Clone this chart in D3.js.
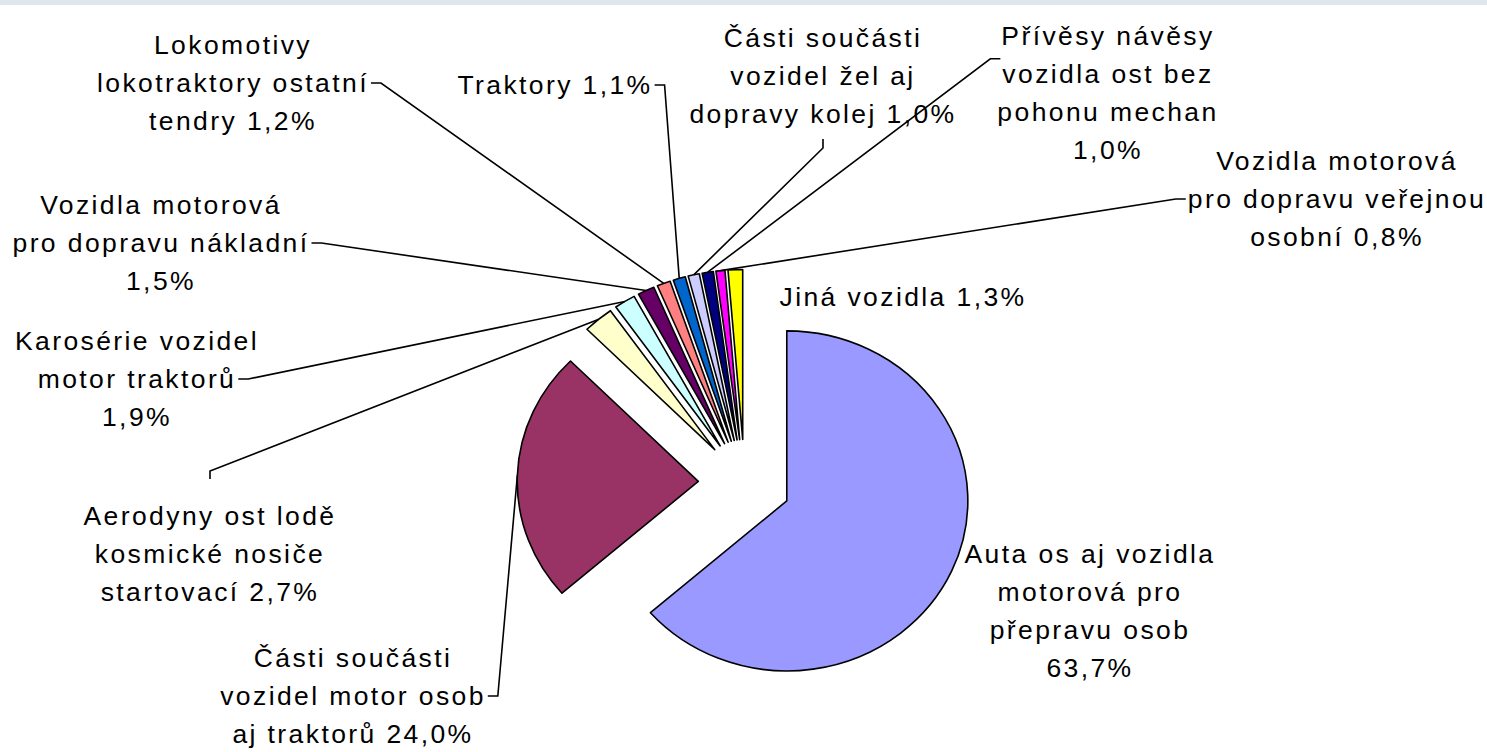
<!DOCTYPE html>
<html>
<head>
<meta charset="utf-8">
<script src="https://cdnjs.cloudflare.com/ajax/libs/d3/7.8.5/d3.min.js"></script>
<style>
    body { margin: 0; background: #fff; }
    svg { display: block; }
    .lbl { font-family: "Liberation Sans", Arial, sans-serif; font-size: 26.5px; letter-spacing: 2.4px; fill: #000; }
</style>
</head>
<body>
<div id="myfigure"></div>
<script>
// slices, clockwise from 12 o'clock
var categories = [
    "Auta os aj vozidla motorová pro přepravu osob",
    "Části součásti vozidel motor osob aj traktorů",
    "Aerodyny ost lodě kosmické nosiče startovací",
    "Karosérie vozidel motor traktorů",
    "Vozidla motorová pro dopravu nákladní",
    "Lokomotivy lokotraktory ostatní tendry",
    "Traktory",
    "Části součásti vozidel žel aj dopravy kolej",
    "Přívěsy návěsy vozidla ost bez pohonu mechan",
    "Vozidla motorová pro dopravu veřejnou osobní",
    "Jiná vozidla"
];
var shares = [63.7, 24.0, 2.7, 1.9, 1.5, 1.2, 1.1, 1.0, 1.0, 0.8, 1.3];
var colors = ["#9999ff", "#993366", "#ffffcc", "#ccffff", "#660066", "#ff8080",
              "#0066cc", "#ccccff", "#000080", "#ff00ff", "#ffff00"];

// label placement: centre x, first baseline, words per line, where the leader starts
var labelLayout = [
    { x: 1090, y: 563, wrap: [4, 2, 2, 1], anchor: null },
    { x: 353,  y: 667, wrap: [2, 3, 3],    anchor: "right", line: 1 },
    { x: 210,  y: 525, wrap: [3, 2, 2],    anchor: "top" },
    { x: 137,  y: 350, wrap: [2, 2, 1],    anchor: "right", line: 1 },
    { x: 161,  y: 214, wrap: [2, 3, 1],    anchor: "right", line: 1 },
    { x: 233,  y: 54,  wrap: [1, 2, 2],    anchor: "right", line: 1 },
    { x: 555,  y: 94,  wrap: [2],          anchor: "right", line: 0 },
    { x: 823,  y: 47,  wrap: [2, 3, 3],    anchor: "bottom" },
    { x: 1108, y: 45,  wrap: [2, 3, 2, 1], anchor: "left", line: 0.6 },
    { x: 1337, y: 170, wrap: [2, 3, 2],    anchor: "left", line: 1 },
    { x: 903,  y: 306, wrap: [3],          anchor: null }
];

var width = 1487, height = 752;
var cx = 744.6, cy = 482.9;     // pie centre
var radius = 170, explode = 43.5, sx = 1.065;   // slightly stretched horizontally
var lineH = 38;

var pctFormat = function(v) { return d3.format(".1f")(v).replace(".", ",") + "%"; };

var svg = d3.select("#myfigure")
    .append("svg")
    .attr("width", width)
    .attr("height", height);

// thin band along the top edge
svg.append("rect")
    .attr("x", 0).attr("y", 0)
    .attr("width", width).attr("height", 5)
    .attr("fill", "#dfe6ee");

var pie = d3.pie().sort(null).value(function(d) { return d; });
var arcs = pie(shares);
var arc = d3.arc().innerRadius(0).outerRadius(radius);

var midAngle = function(d) { return (d.startAngle + d.endAngle) / 2; };
var offsetPoint = function(d, r) {
    var p = d3.pointRadial(midAngle(d), r);
    return [cx + p[0] * sx, cy + p[1]];
};

// slices
svg.append("g")
    .selectAll("path")
    .data(arcs)
    .enter()
    .append("path")
    .attr("transform", function(d) {
        var p = offsetPoint(d, explode);
        return "translate(" + p[0] + "," + p[1] + ") scale(" + sx + ",1)";
    })
    .attr("d", arc)
    .attr("fill", function(d, i) { return colors[i]; })
    .attr("stroke", "#000")
    .attr("stroke-width", 1.6)
    .attr("vector-effect", "non-scaling-stroke")
    .attr("stroke-linejoin", "round");

// labels
var labels = svg.append("g");
var leaders = svg.append("g");

arcs.forEach(function(d, i) {
    var lay = labelLayout[i];
    var words = (categories[i] + " " + pctFormat(shares[i])).split(" ");
    var lines = [], k = 0;
    lay.wrap.forEach(function(n) {
        lines.push(words.slice(k, k + n).join(" "));
        k += n;
    });

    var t = labels.append("text")
        .attr("class", "lbl")
        .attr("text-anchor", "middle");
    var widths = [];
    lines.forEach(function(s, j) {
        var ts = t.append("tspan")
            .attr("x", lay.x)
            .attr("y", lay.y + j * lineH)
            .text(s);
        widths.push(ts.node().getComputedTextLength());
    });

    if (!lay.anchor) return;

    var end = offsetPoint(d, explode + radius);
    var pts;
    if (lay.anchor === "right" || lay.anchor === "left") {
        var j = Math.round(lay.line);
        var w = widths[j];
        var y = lay.y + lay.line * lineH - 9;
        var x0 = lay.anchor === "right" ? lay.x + w / 2 + 2 : lay.x - w / 2 - 2;
        var x1 = lay.anchor === "right" ? x0 + 10 : x0 - 10;
        pts = [[x0, y], [x1, y], end];
    } else if (lay.anchor === "bottom") {
        var yb = lay.y + (lines.length - 1) * lineH + 16;
        pts = [[lay.x, yb], [lay.x, yb + 9], end];
    } else {
        var yt = lay.y - 46;
        pts = [[lay.x, yt], [lay.x, yt - 8], end];
    }

    leaders.append("path")
        .attr("d", d3.line()(pts))
        .attr("fill", "none")
        .attr("stroke", "#000")
        .attr("stroke-width", 1.6);
});
</script>
</body>
</html>
